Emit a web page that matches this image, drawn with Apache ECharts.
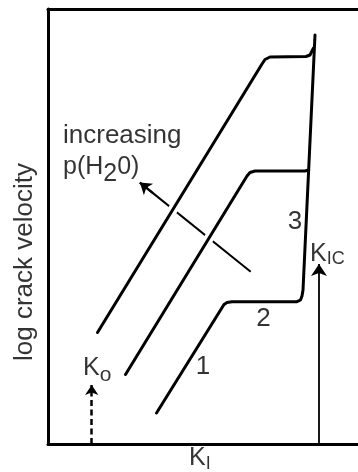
<!DOCTYPE html>
<html><head><meta charset="utf-8">
<script src="https://cdn.jsdelivr.net/npm/echarts@6/dist/echarts.min.js"></script>
<style>html,body{margin:0;padding:0;background:#fff}#c{width:358px;height:472px}</style>
</head><body><div id="c"></div>
<script>
// Schematic: x = K_I (arbitrary units), y = log crack velocity (arbitrary units)
const curve1 = [[108.5,31],[176,139.5],[179,141.5],[184,142.3],[249,142.3],[252.5,144],[254,148],[255,154],[267,409]];
const curve2 = [[77.5,69.5],[199,268],[202,271.5],[207,273],[257,273],[260.7,274]];
const curve3 = [[49.5,111.5],[214,380],[217,384.5],[222,387],[258,387.5],[262,389],[265.5,396]];
const pressureShaft = [[202.7,172.3],[91.9,261.4]];
const pressureHead = [[105,250.9],[91.9,261.4]];
const k0Arrow = [[43.7,0],[43.7,59]];
const kicArrow = [[271,0],[271,180]];
const labelTexts = ['log crack velocity','increasing','{a|p(H}{s2|2}{a|0)}','{a|K}{so|o}','{a|K}{sic|IC}','{a|K}{si|I}','1','2','3'];
const labelAnchors = [[-23,182],[15,308],[15,277],[35,75.5],[262,190],[141,-14.5],[155,77.5],[215.5,125.5],[247,222.5]];
const labelAlign = ['center','left','left','left','left','left','center','center','center'];
const labelRotate = [90,0,0,0,0,0,0,0,0];

const FONT = 'Liberation Sans, Arial, sans-serif';
const rich = {
  a:{fontSize:25,fontFamily:FONT,color:'#000'},
  s2:{fontSize:25,fontFamily:FONT,color:'#000',padding:[14,0,0,0]},
  so:{fontSize:21,fontFamily:FONT,color:'#000',padding:[13,0,0,0]},
  sic:{fontSize:18,fontFamily:FONT,color:'#000',padding:[10,0,0,0]},
  si:{fontSize:18,fontFamily:FONT,color:'#000',padding:[12,0,0,0]}
};
const curves = [curve1, curve2, curve3];
const series = [];
// shaft of the "increasing p(H2O)" arrow, drawn beneath the curves' white halos
series.push({type:'line',data:pressureShaft,z:1,symbol:'none',silent:true,clip:false,
  lineStyle:{color:'#000',width:2}});
curves.forEach(c=>{
  series.push({type:'line',data:c,z:2,symbol:'none',silent:true,clip:false,
    lineStyle:{color:'#fff',width:10,cap:'round',join:'round'}});
});
curves.forEach(c=>{
  series.push({type:'line',data:c,z:3,symbol:'none',silent:true,clip:false,
    lineStyle:{color:'#000',width:3,cap:'round',join:'round'}});
});
series.push({type:'lines',coordinateSystem:'cartesian2d',z:4,silent:true,
  symbol:['none','arrow'],symbolSize:[9,11],
  lineStyle:{color:'#000',width:2,opacity:1},
  data:[{coords:pressureHead}]});
series.push({type:'lines',coordinateSystem:'cartesian2d',z:4,silent:true,
  symbol:['none','arrow'],symbolSize:[8,10],
  lineStyle:{color:'#000',width:2.5,type:[6,3.5],opacity:1},
  data:[{coords:k0Arrow}]});
series.push({type:'lines',coordinateSystem:'cartesian2d',z:4,silent:true,
  symbol:['none','arrow'],symbolSize:[8,12],
  lineStyle:{color:'#000',width:1.8,opacity:1},
  data:[{coords:kicArrow}]});
series.push({type:'scatter',z:10,symbolSize:0,silent:true,clip:false,
  data:labelTexts.map((t,i)=>({value:labelAnchors[i],name:t,
    label:{show:true,position:'inside',formatter:t,align:labelAlign[i],verticalAlign:'middle',
      rotate:labelRotate[i],fontSize:26,fontFamily:FONT,color:'#000',rich:rich}}))});

const chart = echarts.init(document.getElementById('c'),null,{renderer:'canvas'});
chart.setOption({
  animation:false,
  backgroundColor:'#fff',
  grid:{left:48,right:0,top:9,bottom:28,containLabel:false,outerBoundsMode:'none'},
  xAxis:[
    {type:'value',min:0,max:310,position:'bottom',axisLine:{show:true,onZero:false,lineStyle:{color:'#000',width:3}},
     axisTick:{show:false},axisLabel:{show:false},splitLine:{show:false}},
    {type:'value',min:0,max:310,position:'top',axisLine:{show:true,onZero:false,lineStyle:{color:'#000',width:3}},
     axisTick:{show:false},axisLabel:{show:false},splitLine:{show:false}}
  ],
  yAxis:{type:'value',min:0,max:435,axisLine:{show:true,onZero:false,lineStyle:{color:'#000',width:3}},
     axisTick:{show:false},axisLabel:{show:false},splitLine:{show:false}},
  series:series
});
</script></body></html>
